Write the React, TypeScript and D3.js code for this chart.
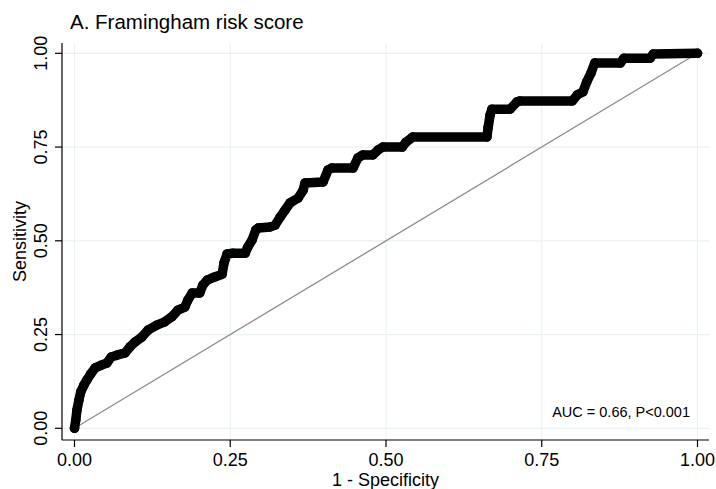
import React from "react";
import * as d3 from "d3";

const fpr: number[] = [
  0, 0.002, 0.004, 0.007, 0.01, 0.015, 0.02, 0.026, 0.033, 0.044, 0.052, 0.059, 0.068, 0.081,
  0.089, 0.097, 0.108, 0.118, 0.132, 0.144, 0.156, 0.166, 0.177, 0.182, 0.189, 0.201, 0.206,
  0.213, 0.224, 0.237, 0.24, 0.245, 0.254, 0.274, 0.278, 0.285, 0.291, 0.295, 0.314, 0.322,
  0.33, 0.338, 0.346, 0.359, 0.367, 0.37, 0.399, 0.407, 0.413, 0.447, 0.455, 0.463, 0.479,
  0.487, 0.495, 0.526, 0.532, 0.543, 0.662, 0.664, 0.667, 0.67, 0.699, 0.71, 0.715, 0.799,
  0.807, 0.816, 0.822, 0.829, 0.835, 0.876, 0.882, 0.924, 0.929, 1,
];
const tpr: number[] = [
  0, 0.022, 0.049, 0.075, 0.097, 0.115, 0.129, 0.145, 0.161, 0.169, 0.174, 0.19, 0.195, 0.201,
  0.217, 0.23, 0.243, 0.262, 0.275, 0.283, 0.297, 0.315, 0.323, 0.342, 0.361, 0.361, 0.382,
  0.395, 0.403, 0.411, 0.441, 0.465, 0.467, 0.467, 0.483, 0.502, 0.529, 0.534, 0.537, 0.542,
  0.563, 0.582, 0.601, 0.614, 0.635, 0.654, 0.657, 0.689, 0.694, 0.694, 0.721, 0.729, 0.729,
  0.742, 0.75, 0.75, 0.763, 0.777, 0.777, 0.803, 0.835, 0.851, 0.851, 0.87, 0.873, 0.873,
  0.889, 0.897, 0.923, 0.947, 0.974, 0.974, 0.987, 0.987, 0.998, 1,
];
const ticks: number[] = [0, 0.25, 0.5, 0.75, 1];
const tickLabels: string[] = ["0.00", "0.25", "0.50", "0.75", "1.00"];
const title = "A. Framingham risk score";
const xTitle = "1 - Specificity";
const yTitle = "Sensitivity";
const note = "AUC = 0.66, P<0.001";

const W = 716;
const H = 489;
const plot = { left: 62, right: 709, top: 43, bottom: 440 };
const FONT = "'Liberation Sans', Arial, Helvetica, sans-serif";

export default function App() {
  const x = d3.scaleLinear().domain([0, 1]).range([74.5, 697.5]);
  const y = d3.scaleLinear().domain([0, 1]).range([428.3, 53.3]);
  const pts: [number, number][] = fpr.map((f, i) => [f, tpr[i]]);
  const line = d3
    .line<[number, number]>()
    .x((d) => x(d[0]))
    .y((d) => y(d[1]));

  return (
    <svg
      width={W}
      height={H}
      style={{ position: "absolute", left: 0, top: 0, background: "#fff" }}
      fontFamily={FONT}
    >
      <rect x={0} y={0} width={W} height={H} fill="#fff" />
      {/* gridlines */}
      {ticks.map((t, i) => (
        <g key={"g" + i}>
          <line x1={x(t)} x2={x(t)} y1={plot.top} y2={plot.bottom} stroke="#e9f1f3" strokeWidth={1.2} />
          <line x1={plot.left} x2={plot.right} y1={y(t)} y2={y(t)} stroke="#e9f1f3" strokeWidth={1.2} />
        </g>
      ))}
      {/* diagonal */}
      <line x1={x(0)} y1={y(0)} x2={x(1)} y2={y(1)} stroke="#8c8c8c" strokeWidth={1.3} />
      {/* ROC curve */}
      <path
        d={line(pts) || ""}
        fill="none"
        stroke="#000"
        strokeWidth={9.5}
        strokeLinejoin="round"
        strokeLinecap="round"
      />
      {pts.map((p, i) => (
        <circle key={"c" + i} cx={x(p[0])} cy={y(p[1])} r={4.8} fill="#000" />
      ))}
      {/* axes */}
      <line x1={plot.left} x2={plot.left} y1={plot.top} y2={plot.bottom} stroke="#000" strokeWidth={1.2} />
      <line x1={plot.left} x2={plot.right} y1={plot.bottom} y2={plot.bottom} stroke="#000" strokeWidth={1.2} />
      {ticks.map((t, i) => (
        <g key={"t" + i}>
          <line x1={plot.left - 7} x2={plot.left} y1={y(t)} y2={y(t)} stroke="#000" strokeWidth={1.2} />
          <text
            transform={`translate(47,${y(t)}) rotate(-90)`}
            textAnchor="middle"
            fontSize={18}
            fill="#000"
          >
            {tickLabels[i]}
          </text>
          <line x1={x(t)} x2={x(t)} y1={plot.bottom} y2={plot.bottom + 7} stroke="#000" strokeWidth={1.2} />
          <text x={x(t)} y={466} textAnchor="middle" fontSize={18} fill="#000">
            {tickLabels[i]}
          </text>
        </g>
      ))}
      <text x={(plot.left + plot.right) / 2} y={486} textAnchor="middle" fontSize={18} fill="#000">
        {xTitle}
      </text>
      <text
        transform={`translate(26,${(plot.top + plot.bottom) / 2}) rotate(-90)`}
        textAnchor="middle"
        fontSize={18}
        fill="#000"
      >
        {yTitle}
      </text>
      <text x={70} y={29} fontSize={20.5} fill="#000">
        {title}
      </text>
      <text x={690} y={417} textAnchor="end" fontSize={14.5} fill="#000">
        {note}
      </text>
    </svg>
  );
}
